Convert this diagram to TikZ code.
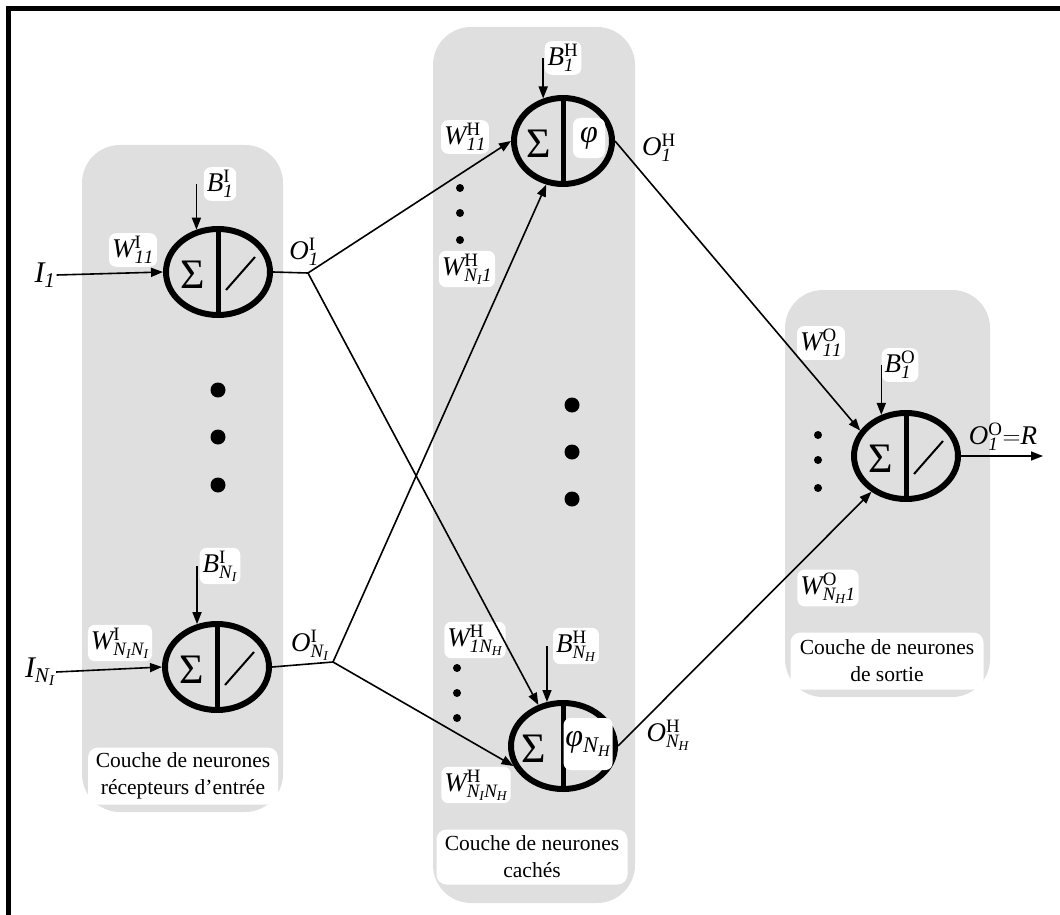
\documentclass[tikz,border=0pt]{standalone}
\usepackage{fontspec}
\setmainfont{Liberation Serif}
\usetikzlibrary{shapes.geometric,arrows.meta,calc}
\begin{document}
\begin{tikzpicture}[x=1pt,y=-1pt,
  layer/.style={fill=gray!25, rounded corners=38pt},
  neuron/.style={ellipse, draw, line width=6pt, minimum width=104pt, minimum height=86pt, inner sep=0pt},
  wlab/.style={fill=white, rounded corners=7pt, inner sep=3pt, font=\fontsize{27}{32}\selectfont},
  plain/.style={inner sep=1pt, font=\fontsize{27}{32}\selectfont},
  sig/.style={inner sep=0pt, font=\fontsize{42}{46}\selectfont},
  arr/.style={line width=1.6pt, -{Triangle[length=12pt,width=9pt]}},
  conn/.style={line width=1.6pt},
  divider/.style={line width=5pt},
  slash/.style={line width=2pt},
  bigdot/.style={circle, fill, inner sep=0pt, minimum size=15pt},
  smalldot/.style={circle, fill, inner sep=0pt, minimum size=8pt},
  title/.style={fill=white, rounded corners=10pt, align=center, font=\fontsize{21.5}{27}\selectfont, inner sep=2pt}
]
\useasboundingbox (0,0) rectangle (1060,915);
% frame
\draw[line width=5pt] (1060,9) -- (8.5,9) -- (8.5,915);
% layers
\path[layer] (82,145) rectangle (283,812);
\path[layer] (433,27) rectangle (635,903);
\path[layer] (785,290) rectangle (990,697);
% neurons
\node[neuron] (n1) at (218,272) {};
\node[neuron] (n2) at (217,667) {};
\node[neuron, minimum width=98pt] (h1) at (563,141) {};
\node[neuron] (h2) at (563,746) {};
\node[neuron] (o1) at (906,456) {};
\foreach \n in {n1,n2,h1,h2,o1} {\draw[divider] (\n.north) -- (\n.south);}
% sigma and transfer
\node[sig] (s1) at ($(n1.center)+(-25,3)$) {Σ};
\node[sig] (s2) at ($(n2.center)+(-25,3)$) {Σ};
\node[sig] (s3) at ($(h1.center)+(-24,3)$) {Σ};
\node[sig] (s4) at ($(h2.center)+(-29,3)$) {Σ};
\node[sig] (s5) at ($(o1.center)+(-25,3)$) {Σ};
\draw[slash] ($(n1.center)+(8,18)$) -- ($(n1.center)+(37,-15)$);
\draw[slash] ($(n2.center)+(8,18)$) -- ($(n2.center)+(37,-15)$);
\draw[slash] ($(o1.center)+(8,18)$) -- ($(o1.center)+(37,-15)$);
\node[wlab, minimum width=32pt, minimum height=40pt, inner sep=0pt, font=\fontsize{32}{36}\selectfont] (phi1) at (589,138) {\textit{φ}};
\node[wlab, minimum width=49pt, minimum height=52pt, inner sep=0pt, font=\fontsize{32}{36}\selectfont] (phiN) at (588,744) {\textit{φ}$_{\mathit{N_H}}$};
% dots
\foreach \y in {390,437,485} {\node[bigdot] (di\y) at (218,\y) {};}
\foreach \y in {405,452,499} {\node[bigdot] (dh\y) at (572,\y) {};}
\foreach \y in {188,213,240} {\node[smalldot] (sa\y) at (460,\y) {};}
\foreach \y in {668,693,718} {\node[smalldot] (sb\y) at (457,\y) {};}
\foreach \y in {435,460,488} {\node[smalldot] (sc\y) at (818,\y) {};}
% labels input layer
\node[plain, font=\fontsize{30}{34}\selectfont] (i1) at (45,275) {$\mathit{I}_{\mathit{1}}$};
\node[plain, font=\fontsize{30}{34}\selectfont] (iN) at (40,672) {$\mathit{I}_{\mathit{N_{I}}}$};
\node[wlab] (wI11) at (133,250) {$\mathit{W}^{\mathrm{I}}_{\mathit{11}}$};
\node[wlab] (bI1) at (220,184) {$\mathit{B}^{\mathrm{I}}_{\mathit{1}}$};
\node[plain] (oI1) at (304,252) {$\mathit{O}^{\mathrm{I}}_{\mathit{1}}$};
\node[wlab] (wINN) at (120,643) {$\mathit{W}^{\mathrm{I}}_{\mathit{N_{I}N_{I}}}$};
\node[wlab] (bIN) at (220,566) {$\mathit{B}^{\mathrm{I}}_{\mathit{N_{I}}}$};
\node[plain] (oIN) at (310,645) {$\mathit{O}^{\mathrm{I}}_{\mathit{N_{I}}}$};
% labels hidden layer
\node[wlab] (bH1) at (563,58) {$\mathit{B}^{\mathrm{H}}_{\mathit{1}}$};
\node[wlab] (wH11) at (465,137) {$\mathit{W}^{\mathrm{H}}_{\mathit{11}}$};
\node[wlab] (wHN1) at (467,269) {$\mathit{W}^{\mathrm{H}}_{\mathit{N_{I}1}}$};
\node[plain] (oH1) at (659,148) {$\mathit{O}^{\mathrm{H}}_{\mathit{1}}$};
\node[wlab] (wH1N) at (475,640) {$\mathit{W}^{\mathrm{H}}_{\mathit{1N_{H}}}$};
\node[wlab] (bHN) at (576,646) {$\mathit{B}^{\mathrm{H}}_{\mathit{N_{H}}}$};
\node[wlab] (wHNN) at (476,785) {$\mathit{W}^{\mathrm{H}}_{\mathit{N_{I}N_{H}}}$};
\node[plain] (oHN) at (668,735) {$\mathit{O}^{\mathrm{H}}_{\mathit{N_{H}}}$};
% labels output layer
\node[wlab] (wO11) at (821,343) {$\mathit{W}^{\mathrm{O}}_{\mathit{11}}$};
\node[wlab] (bO1) at (900,365) {$\mathit{B}^{\mathrm{O}}_{\mathit{1}}$};
\node[wlab] (wOH) at (828,588) {$\mathit{W}^{\mathrm{O}}_{\mathit{N_{H}1}}$};
\node[plain] (oO) at (1003,437) {$\mathit{O}^{\mathrm{O}}_{\mathit{1}}{=}\mathit{R}$};
% titles
\node[title, minimum width=190pt, minimum height=57pt] (tI) at (183,776) {Couche de neurones\\récepteurs d’entrée};
\node[title, minimum width=191pt, minimum height=55pt] (tH) at (532,857) {Couche de neurones\\cachés};
\node[title, minimum width=193pt, minimum height=57pt] (tO) at (887,661) {Couche de neurones\\de sortie};
% connectors
\coordinate (b1) at (308,273);
\coordinate (b2) at (333,662);
\coordinate (out) at (1043,456);
\draw[arr] (i1.east) -- (n1.west);
\draw[arr] (iN.east) -- (n2.west);
\draw[arr] (n1.117 |- bI1.west) -- (n1.117);
\draw[arr] (n2.115 |- bIN.west) -- (n2.115);
\draw[arr] (h1.115 |- bH1.west) -- (h1.115);
\draw[arr] (h2.110 |- bHN.west) -- (h2.110);
\draw[arr] (o1.121 |- bO1.west) -- (o1.121);
\draw[conn] (n1.east) -- (b1);
\draw[conn] (n2.east) -- (b2);
\draw[arr] (b1) -- (h1.west);
\draw[arr] (b1) -- (h2.121);
\draw[arr] (b2) -- (h1.249);
\draw[arr] (b2) -- (h2.202);
\draw[arr] (h1.east) -- (o1.151);
\draw[arr] (h2.east) -- (o1.226);
\draw[arr] (o1.east) -- (out);
\end{tikzpicture}
\end{document}
